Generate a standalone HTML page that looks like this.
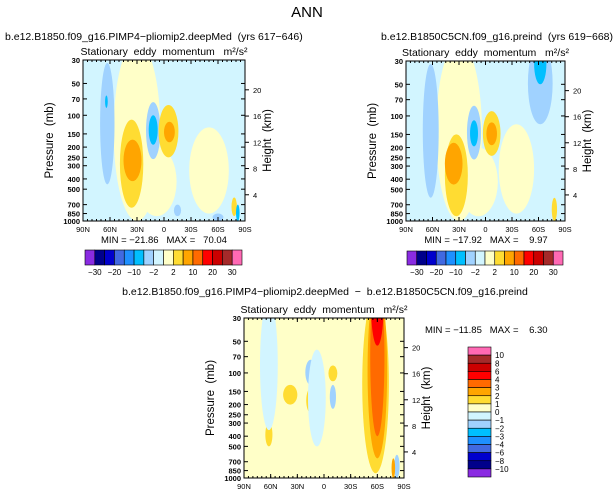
<!DOCTYPE html>
<html><head><meta charset="utf-8"><style>
body{margin:0;background:#fff;width:615px;height:497px;overflow:hidden}
svg{display:block;font-family:"Liberation Sans",sans-serif}
text{white-space:pre}
</style></head><body>
<svg id="s" width="615" height="497" viewBox="0 0 615 497">
<text x="307" y="17" font-size="15" text-anchor="middle">ANN</text>
</svg>
<script>
const NS="http://www.w3.org/2000/svg";
const svg=document.getElementById('s');
const topLevels=["-30","-20","-10","-2","2","10","20","30"];
const botLevels=["10","8","6","4","3","2","1","0","-1","-2","-3","-4","-6","-8","-10"];
const colors=["#8a2be2","#00008b","#0000cd","#4169e1","#1e90ff","#00bfff","#a0d2ff","#d2f5ff","#ffffc8","#ffdc32","#ffa500","#ff6a00","#ff0000","#cc0000","#a52a2a","#ff69b4"];
const pTicks=[30,50,70,100,150,200,250,300,400,500,700,850,1000];
const hTicks=[20,16,12,8,4];
const latTicks=["90N","60N","30N","0","30S","60S","90S"];
const latVals=[90,60,30,0,-30,-60,-90];
// blobs: [lat center, p top, p bottom, lat half width, color index]
const blobsA_lat=[30,8,-50,63,64,36,35,12,12,-5,-6,-15,-60,-78,-82];
const blobsA_top=[20,200,130,32,65,110,170,75,100,80,115,700,850,600,700];
const blobsA_bot=[1000,900,850,450,85,750,420,260,190,250,180,900,1000,900,1000];
const blobsA_hw=[26,22,22,8,1.5,13,10,8,5,11,6,4,6,3,2];
const blobsA_c=[8,8,8,6,5,9,10,6,5,9,10,6,6,9,5];
const blobsB_lat=[30,8,-35,-62,-62,62,33,36,13,13,-7,-7,-78];
const blobsB_top=[20,200,120,20,20,32,150,180,80,110,90,115,600];
const blobsB_bot=[1000,900,850,120,50,600,900,450,260,195,240,190,1000];
const blobsB_hw=[26,22,20,14,7,9,13,10,8,4.5,10,6,3];
const blobsB_c=[8,8,8,6,5,6,9,10,6,5,9,10,9];
const blobsC_lat=[-58,-60,-60,-60,15,-10,38,15,-10,-82,-78,8,62,62];
const blobsC_top=[18,14,12,10,75,85,130,140,130,600,650,60,300,20];
const blobsC_bot=[900,650,400,55,130,120,200,240,220,1000,1000,500,500,350];
const blobsC_hw=[15,11,8,7,6,5,8,5,3.5,3,2,10,4,10];
const blobsC_c=[9,10,11,12,6,9,9,9,6,6,10,7,9,7];

function el(tag,attrs,parent){const e=document.createElementNS(NS,tag);for(const k in attrs)e.setAttribute(k,attrs[k]);(parent||svg).appendChild(e);return e;}
function txt(x,y,s,size,anchor,parent){const t=el('text',{x:x,y:y,'font-size':size,'text-anchor':anchor||'start'},parent);t.textContent=s;return t;}

function panel(px,py,pw,ph,bg,lat,top,bot,hw,col,name){
  const g=el('g',{});
  
  
  const X=l=>px+(90-l)/180*pw;
  const Y=p=>py+Math.log(p/30)/Math.log(1000/30)*ph;
  const cp=el('clipPath',{id:'c'+name},g);el('rect',{x:px,y:py,width:pw,height:ph},cp);
  el('rect',{x:px,y:py,width:pw,height:ph,fill:bg},g);
  const fg=el('g',{'clip-path':'url(#c'+name+')'},g);
  for(let i=0;i<lat.length;i++){
    const y1=Y(top[i]),y2=Y(bot[i]);
    const e=el('ellipse',{cx:X(lat[i]),cy:(y1+y2)/2,rx:hw[i]/180*pw,ry:(y2-y1)/2,fill:colors[col[i]]},fg);
    
    
  }
  el('rect',{x:px,y:py,width:pw,height:ph,fill:'none',stroke:'#000','stroke-width':1},g);
  pTicks.forEach(p=>{const y=Y(p);el('line',{x1:px,x2:px+4,y1:y,y2:y,stroke:'#000'},g);el('line',{x1:px+pw,x2:px+pw-4,y1:y,y2:y,stroke:'#000'},g);
    const t=txt(px-3,y+3,String(p),7.5,'end',g);t.setAttribute('font-weight','bold');});
  latVals.forEach((l,i)=>{const x=X(l);el('line',{x1:x,x2:x,y1:py+ph,y2:py+ph-4,stroke:'#000'},g);el('line',{x1:x,x2:x,y1:py,y2:py+4,stroke:'#000'},g);
    txt(x,py+ph+11,latTicks[i],7.5,'middle',g);});
  for(let l=85;l>-90;l-=5){el('line',{x1:X(l),x2:X(l),y1:py+ph,y2:py+ph-2,stroke:'#000'},g);el('line',{x1:X(l),x2:X(l),y1:py,y2:py+2,stroke:'#000'},g);}
  hTicks.forEach(h=>{const p=1000*Math.exp(-h/7);const y=Y(p);el('line',{x1:px+pw,x2:px+pw+4,y1:y,y2:y,stroke:'#000'},g);txt(px+pw+8,y+3,String(h),7.5,'start',g);});
  const yl=txt(0,0,'Pressure  (mb)',11.5,'middle',g);yl.setAttribute('transform','translate('+(px-30)+','+(py+ph/2)+') rotate(-90)');
  
  const yr=txt(0,0,'Height  (km)',11.5,'middle',g);yr.setAttribute('transform','translate('+(px+pw+26)+','+(py+ph/2)+') rotate(-90)');
  txt(px+pw/2,py-5,'Stationary  eddy  momentum   m\u00B2/s\u00B2',10.5,'middle',g);
  return g;
}
function hbar(x,y,w,h,labels){
  const g=el('g',{});
  
  
  const bw=w/16;
  colors.forEach((c,i)=>el('rect',{x:x+i*bw,y:y,width:bw,height:h,fill:c,stroke:'#000','stroke-width':0.6},g));
  const pos=[1,3,5,7,9,11,13,15];
  labels.forEach((s,i)=>txt(x+pos[i]*bw,y+h+10,s.replace('-','\u2212'),8,'middle',g));
}
function vbar(x,y,w,h,labels){
  const g=el('g',{});
  
  
  const bh=h/16;
  for(let i=0;i<16;i++)el('rect',{x:x,y:y+i*bh,width:w,height:bh,fill:colors[15-i],stroke:'#000','stroke-width':0.6},g);
  labels.forEach((s,i)=>txt(x+w+4,y+(i+1)*bh+3,s.replace('-','\u2212'),8,'start',g));
}
txt(5,40,'b.e12.B1850.f09_g16.PIMP4\u2212pliomip2.deepMed  (yrs 617\u2212646)',10.5,'start');
txt(613,40,'b.e12.B1850C5CN.f09_g16.preind  (yrs 619\u2212668)',10.5,'end');
txt(325,295,'b.e12.B1850.f09_g16.PIMP4\u2212pliomip2.deepMed  \u2212  b.e12.B1850C5CN.f09_g16.preind',10.5,'middle');
panel(83,60,162,161,'#d2f5ff',blobsA_lat,blobsA_top,blobsA_bot,blobsA_hw,blobsA_c,'panel-pliomip');
panel(406,61,159,160,'#d2f5ff',blobsB_lat,blobsB_top,blobsB_bot,blobsB_hw,blobsB_c,'panel-preind');
panel(244,318,160,160,'#ffffc8',blobsC_lat,blobsC_top,blobsC_bot,blobsC_hw,blobsC_c,'panel-difference');
txt(164,243,'MIN = \u221221.86   MAX =   70.04',9.5,'middle');
txt(486,243,'MIN = \u221217.92   MAX =    9.97',9.5,'middle');
txt(425,333,'MIN = \u221211.85   MAX =    6.30',9.5,'start');
hbar(85,250,157,15,topLevels);
hbar(407,251,156,14,topLevels);
vbar(468,347,23,130,botLevels);
</script>
</body></html>
